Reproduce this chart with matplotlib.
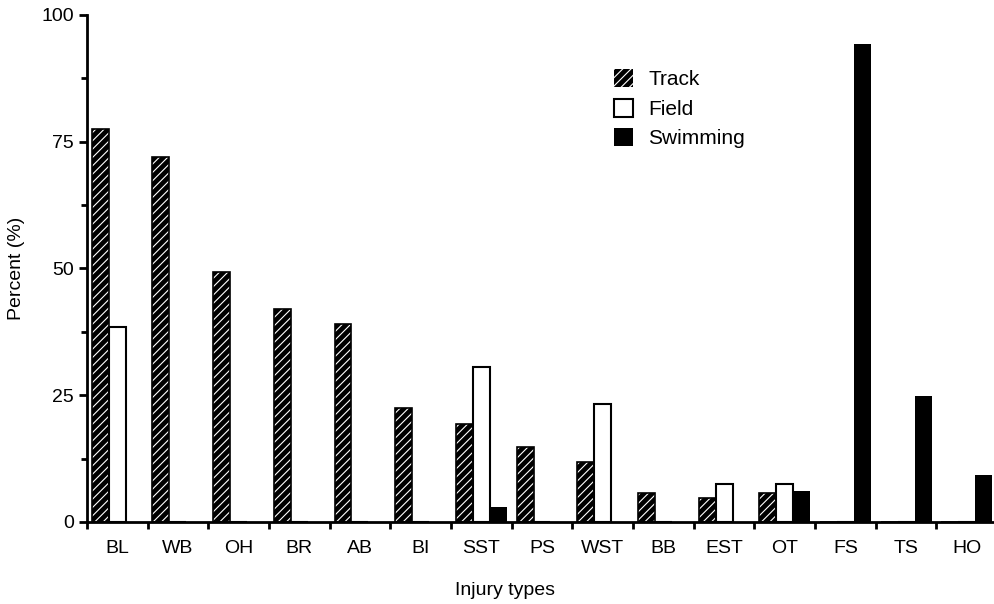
import matplotlib.pyplot as plt
import numpy as np

# injury type percentages per sport
tipos = ['BL', 'WB', 'OH', 'BR', 'AB', 'BI', 'SST', 'PS', 'WST', 'BB',
         'EST', 'OT', 'FS', 'TS', 'HO']
track = [77.6, 71.9, 49.3, 42.1, 39.0, 22.5, 19.3, 14.7, 11.9, 5.7,
         4.7, 5.8, 0, 0, 0]
field = [38.5, 0, 0, 0, 0, 0, 30.6, 0, 23.2, 0, 7.5, 7.5, 0, 0, 0]
swimming = [0, 0, 0, 0, 0, 0, 3.0, 0, 0, 0, 0, 6.2, 94.3, 24.9, 9.3]

plt.rcParams['font.family'] = ['Liberation Sans', 'DejaVu Sans']
plt.rcParams['hatch.color'] = 'white'
plt.rcParams['hatch.linewidth'] = 0.8

fig = plt.figure(figsize=(9.94, 6.04), dpi=100)
ax = fig.add_axes([0.0875, 0.1358, 0.9125, 0.8394])

x = np.arange(len(tipos))
w = 0.28
h_track = ax.bar(x + 0.22, track, w, color='black', hatch='////',
                 linewidth=0, label='Track')
ax.bar(x + 0.22, track, w, fill=False, edgecolor='black', linewidth=1.2)
h_field = ax.bar(x + 0.5, field, w, facecolor='white', edgecolor='black',
                 linewidth=1.5, label='Field')
h_swim = ax.bar(x + 0.78, swimming, w, color='black', label='Swimming')

ax.set_xlim(0, 14.95)
ax.set_ylim(0, 100)
ax.spines['top'].set_visible(False)
ax.spines['right'].set_visible(False)
ax.spines['left'].set_linewidth(2)
ax.spines['bottom'].set_linewidth(2)

ax.set_yticks([0, 25, 50, 75, 100])
ax.set_yticks([12.5, 37.5, 62.5, 87.5], minor=True)
ax.tick_params(axis='y', which='major', length=6, width=2, labelsize=14)
ax.tick_params(axis='y', which='minor', length=4, width=2)

# group boundaries as ticks, labels centred between them
ax.set_xticks(np.arange(0, 15))
ax.set_xticklabels([])
ax.set_xticks(x + 0.5, minor=True)
ax.set_xticklabels(tipos, minor=True)
ax.tick_params(axis='x', which='major', length=5, width=2)
ax.tick_params(axis='x', which='minor', length=0, labelsize=14, pad=13)

ax.set_ylabel('Percent (%)', fontsize=14)
ax.set_xlabel('Injury types', fontsize=14)
ax.yaxis.set_label_coords(-0.068, 0.5)
ax.xaxis.set_label_coords(0.461, -0.118)

ax.legend(handles=[h_track, h_field, h_swim], loc='upper left',
          bbox_to_anchor=(0.56, 0.93), frameon=False, fontsize=15,
          handlelength=0.95, handleheight=0.95, handletextpad=0.7,
          labelspacing=0.45)

plt.savefig('out.png', dpi=100)
